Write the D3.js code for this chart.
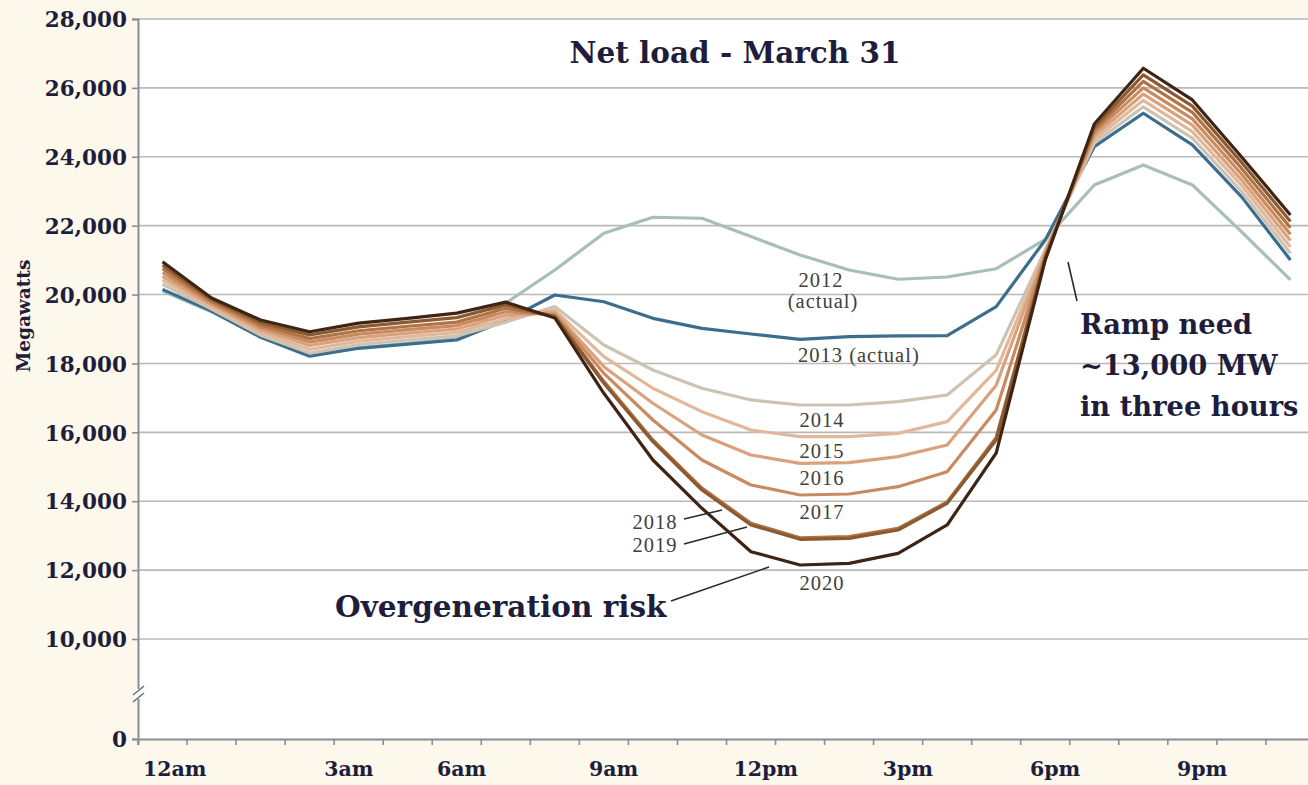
<!DOCTYPE html>
<html>
<head>
<meta charset="utf-8">
<script src="https://cdn.jsdelivr.net/npm/d3@7"></script>
<style>
  html, body { margin: 0; padding: 0; background: #fcf8ec; }
  svg { display: block; }
</style>
</head>
<body>
<svg id="chart" width="1308" height="785"></svg>
<script>
// ---------- DATA ----------
const hours = [0,1,2,3,4,5,6,7,8,9,10,11,12,13,14,15,16,17,18,19,20,21,22,23];
const xTickLabels = ["12am","3am","6am","9am","12pm","3pm","6pm","9pm"];
const xTickLabelAt = [0.25, 3.8, 6.1, 9.2, 12.3, 15.2, 18.2, 21.2]; // in hour units
const yTickValues = [0, 10000, 12000, 14000, 16000, 18000, 20000, 22000, 24000, 26000, 28000];

const seriesNames = ["2012","2013","2014","2015","2016","2017","2018","2019","2020"];
const s2012 = [20100,19500,18780,18230,18460,18580,18720,19750,20714,21780,22245,22216,21684,21150,20714,20444,20510,20750,21600,23182,23763,23182,21827,20424];
const s2013 = [20150,19520,18760,18210,18440,18560,18680,19250,19988,19790,19310,19020,18855,18700,18778,18800,18807,19650,21585,24294,25264,24344,22843,21005];
const s2014 = [20300,19580,18820,18300,18550,18680,18800,19200,19650,18536,17810,17280,16940,16794,16794,16890,17085,18250,21300,24400,25450,24540,23000,21200];
const s2015 = [20420,19640,18900,18410,18650,18780,18900,19300,19550,18196,17280,16600,16068,15874,15874,15970,16310,17800,21250,24500,25640,24730,23170,21380];
const s2016 = [20530,19700,18980,18520,18750,18880,19000,19400,19480,17906,16844,15923,15342,15100,15120,15294,15633,17370,21200,24600,25820,24920,23330,21570];
const s2017 = [20640,19760,19050,18620,18850,18980,19100,19500,19420,17713,16359,15197,14471,14181,14210,14422,14858,16650,21150,24700,26000,25100,23500,21750];
const s2018 = [20750,19810,19120,18720,18950,19080,19200,19600,19380,17480,15780,14380,13360,12940,12970,13210,13980,15850,21100,24780,26190,25290,23670,21940];
const s2019 = [20850,19860,19190,18830,19060,19200,19330,19700,19350,17423,15729,14326,13310,12894,12923,13165,13939,15780,21050,24860,26380,25470,23840,22120];
const s2020 = [20950,19900,19260,18920,19170,19310,19460,19780,19320,17133,15197,13794,12535,12149,12197,12487,13310,15400,21000,24950,26570,25650,24003,22311];
const seriesValues = [s2012,s2013,s2014,s2015,s2016,s2017,s2018,s2019,s2020];
const seriesColors = ["#a7beb9","#3d6d8d","#cdc3b3","#e3b89a","#d9a17c","#c98a60","#b07444","#8c5a30","#3e2414"];

// ---------- LAYOUT ----------
const W = 1308, H = 785;
const plotLeft = 138, plotTop = 19, plotBottom = 739;
const bandW = 49.04;
const plotRight = plotLeft + bandW * 24;
const navy = "#1e1e3c";
const boldFont = "'DejaVu Serif', serif";
const yearFont = "'Liberation Serif', 'Times New Roman', serif";

const svg = d3.select("#chart");

const x = d3.scaleBand().domain(hours).range([plotLeft, plotRight]).paddingInner(0).paddingOuter(0);
const xc = h => x(h) + x.bandwidth() / 2;
const xLin = d3.scaleLinear().domain([0, 23]).range([xc(0), xc(23)]);
const y = d3.scaleLinear().domain([0, 10000, 28000]).range([plotBottom, plotBottom - 100, plotTop]);

// plot background
svg.append("rect").attr("x", plotLeft).attr("y", plotTop).attr("width", W - plotLeft).attr("height", plotBottom - plotTop).attr("fill", "#ffffff");

// gridlines
svg.append("g").selectAll("line").data(yTickValues.filter(v => v > 0)).join("line")
  .attr("x1", plotLeft).attr("x2", W).attr("y1", d => y(d)).attr("y2", d => y(d))
  .attr("stroke", "#b9b9b9").attr("stroke-width", 1.6);

// y axis
const yAxis = d3.axisLeft(y).tickValues(yTickValues).tickSize(6).tickFormat(d3.format(","));
const gy = svg.append("g").attr("transform", `translate(${plotLeft},0)`).call(yAxis);
gy.select(".domain").attr("stroke", "#8a8c98").attr("stroke-width", 2);
gy.selectAll(".tick line").attr("stroke", "#8a8c98").attr("stroke-width", 1.6);
gy.selectAll(".tick text").attr("font-family", boldFont).attr("font-weight", "bold")
  .attr("font-size", 21.5).attr("fill", navy).attr("x", -11).attr("dy", "0.36em");

// x axis
const xAxis = d3.axisBottom(x).tickSize(6).tickFormat("");
const gx = svg.append("g").attr("transform", `translate(0,${plotBottom})`).call(xAxis);
gx.select(".domain").attr("stroke", "#8a8c98").attr("stroke-width", 2);
gx.selectAll(".tick").attr("transform", d => `translate(${x(d)},0)`);
gx.selectAll(".tick line").attr("stroke", "#8a8c98").attr("stroke-width", 1.6);
svg.append("g").selectAll("text").data(xTickLabels).join("text")
  .attr("x", (d, i) => xLin(xTickLabelAt[i])).attr("y", 776)
  .attr("text-anchor", "middle")
  .attr("font-family", boldFont).attr("font-weight", "bold").attr("font-size", 20.5)
  .attr("fill", navy).text(d => d);

// axis break marks
const brk = svg.append("g");
brk.append("rect").attr("x", plotLeft - 3).attr("y", 689).attr("width", 6).attr("height", 10).attr("fill", "#ffffff");
brk.append("line").attr("x1", plotLeft - 5).attr("y1", 695).attr("x2", plotLeft + 6).attr("y2", 686).attr("stroke", "#6a6c78").attr("stroke-width", 1.5);
brk.append("line").attr("x1", plotLeft - 5).attr("y1", 702).attr("x2", plotLeft + 6).attr("y2", 693).attr("stroke", "#6a6c78").attr("stroke-width", 1.5);

// y axis title
svg.append("text").attr("transform", `translate(30,316) rotate(-90)`)
  .attr("text-anchor", "middle").attr("font-family", boldFont).attr("font-weight", "bold")
  .attr("font-size", 18.5).attr("fill", navy).text("Megawatts");

// lines
const line = d3.line().x((d, i) => xc(hours[i])).y(d => y(d));
svg.append("g").selectAll("path").data(seriesValues).join("path")
  .attr("d", d => line(d)).attr("fill", "none")
  .attr("stroke", (d, i) => seriesColors[i]).attr("stroke-width", 3.2)
  .attr("stroke-linejoin", "round");

// title
svg.append("text").attr("x", 735).attr("y", 63).attr("text-anchor", "middle")
  .attr("font-family", boldFont).attr("font-weight", "bold").attr("font-size", 29.5)
  .attr("fill", navy).text("Net load - March 31");

// year labels
const yearLabels = [
  {t: "2012", x: 821, y: 287, a: "middle"},
  {t: "(actual)", x: 823, y: 308, a: "middle"},
  {t: "2013 (actual)", x: 798, y: 362, a: "start"},
  {t: "2014", x: 822, y: 427, a: "middle"},
  {t: "2015", x: 822, y: 458, a: "middle"},
  {t: "2016", x: 822, y: 485, a: "middle"},
  {t: "2017", x: 822, y: 519, a: "middle"},
  {t: "2018", x: 655, y: 529, a: "middle"},
  {t: "2019", x: 655, y: 552, a: "middle"},
  {t: "2020", x: 822, y: 590, a: "middle"}
];
svg.append("g").selectAll("text").data(yearLabels).join("text")
  .attr("x", d => d.x).attr("y", d => d.y).attr("text-anchor", d => d.a)
  .attr("font-family", yearFont).attr("font-size", 20.5).attr("letter-spacing", 1)
  .attr("fill", "#404040").text(d => d.t);

// leader lines
const leaders = [
  [684, 519, 722, 510],
  [684, 544, 747, 527],
  [671, 601, 769, 567],
  [1068, 262, 1077, 301]
];
svg.append("g").selectAll("line").data(leaders).join("line")
  .attr("x1", d => d[0]).attr("y1", d => d[1]).attr("x2", d => d[2]).attr("y2", d => d[3])
  .attr("stroke", "#2a2a2a").attr("stroke-width", 1.6);

// annotations
svg.append("text").attr("x", 335).attr("y", 617)
  .attr("font-family", boldFont).attr("font-weight", "bold").attr("font-size", 29.5)
  .attr("fill", navy).text("Overgeneration risk");
const ramp = ["Ramp need", "~13,000 MW", "in three hours"];
svg.append("g").selectAll("text").data(ramp).join("text")
  .attr("x", 1080).attr("y", (d, i) => 334 + i * 41)
  .attr("font-family", boldFont).attr("font-weight", "bold").attr("font-size", 27.3)
  .attr("fill", navy).text(d => d);
</script>
</body>
</html>
